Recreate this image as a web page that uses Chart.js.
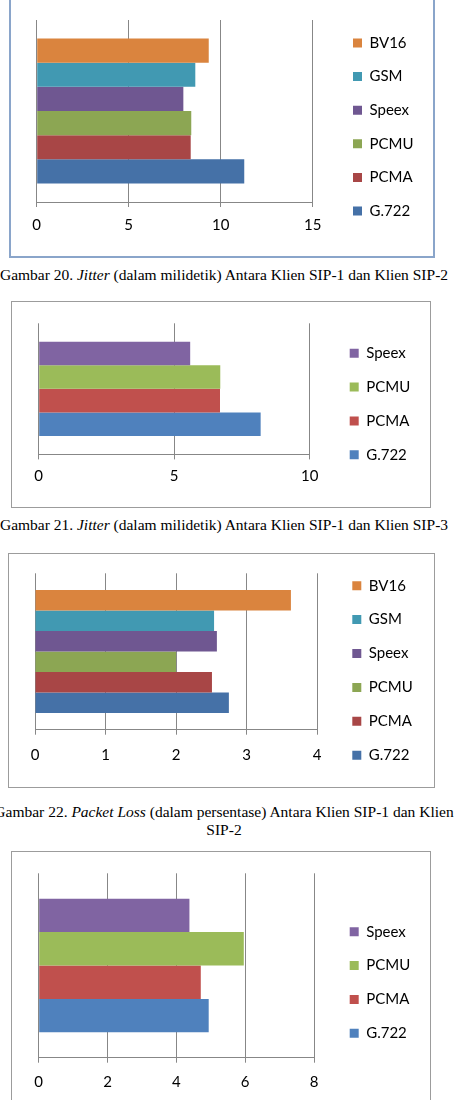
<!DOCTYPE html>
<html lang="id">
<head>
<meta charset="UTF-8">
<title>Jitter dan Packet Loss antar Klien SIP</title>
<script src="https://cdn.jsdelivr.net/npm/chart.js@4.4.0/dist/chart.umd.min.js"></script>
<style>
  html, body { margin: 0; padding: 0; background: #fff; }
  body { width: 456px; height: 1100px; position: relative; overflow: hidden; }
  .frame { position: absolute; box-sizing: border-box; border: 1px solid #9c9c9c; }
  .frame.blue { border: 2px solid #8aa5ca; }
  canvas { position: absolute; }
  .caption {
    position: absolute; left: -120px; width: 688px; text-align: center;
    font: 15.5px "Liberation Serif", "Times New Roman", serif; line-height: 18px;
    color: #000; white-space: nowrap;
  }
</style>
</head>
<body>
<div class="frame blue" style="left:9px; top:-10px; width:426px; height:268px"></div>
<canvas id="jitter2"></canvas>
<div class="caption" style="top:266px">Gambar 20. <i>Jitter</i> (dalam milidetik) Antara Klien SIP-1 dan Klien SIP-2</div>

<div class="frame" style="left:11px; top:301px; width:420px; height:207px"></div>
<canvas id="jitter3"></canvas>
<div class="caption" style="top:516px">Gambar 21. <i>Jitter</i> (dalam milidetik) Antara Klien SIP-1 dan Klien SIP-3</div>

<div class="frame" style="left:8px; top:553px; width:427px; height:235px"></div>
<canvas id="loss2"></canvas>
<div class="caption" style="top:803px">Gambar 22. <i>Packet Loss</i> (dalam persentase) Antara Klien SIP-1 dan Klien<br>SIP-2</div>

<div class="frame" style="left:11px; top:851px; width:420px; height:300px"></div>
<canvas id="loss3"></canvas>

<script>
// codecs, top bar first
const codecs6 = ['BV16', 'GSM', 'Speex', 'PCMU', 'PCMA', 'G.722'];
const codecs4 = ['Speex', 'PCMU', 'PCMA', 'G.722'];

// values
const jitterSip2 = [9.35, 8.62, 7.97, 8.40, 8.37, 11.28];
const jitterSip3 = [5.59, 6.70, 6.69, 8.19];
const lossSip2 = [3.63, 2.54, 2.58, 2.00, 2.51, 2.75];
const lossSip3 = [4.38, 5.96, 4.71, 4.94];

// x axis tick labels
const jitterSip2Ticks = [0, 5, 10, 15];
const jitterSip3Ticks = [0, 5, 10];
const lossSip2Ticks = [0, 1, 2, 3, 4];
const lossSip3Ticks = [0, 2, 4, 6, 8];

const darkColors = { 'BV16': '#da843e', 'GSM': '#4199b2', 'Speex': '#6f5791', 'PCMU': '#8ca653', 'PCMA': '#a84646', 'G.722': '#4571a7' };
const lightColors = { 'Speex': '#8064a2', 'PCMU': '#9bbb59', 'PCMA': '#c0504d', 'G.722': '#4f81bd' };

const FONT = { family: 'Lato, "Open Sans", sans-serif', size: 15 };
const GRID = '#878787';
const BOX = 9;

const measure = document.createElement('canvas').getContext('2d');

// box = page positions of each plot (px)
function makeChart(id, names, values, tickLabels, colors, box) {
  const fs = FONT.size, lh = fs * 1.2, tickLen = 5, n = names.length;
  const gap = box.legendStep - fs;
  // legend is centred on the full canvas height, solve for canvas top/bottom
  const k = 2 * box.legendY - fs - gap + n * box.legendStep;
  const m = (n - 1) * box.legendStep + fs + 2 * gap;
  const natural = box.labelY + lh / 2;
  const bottom = Math.max(natural, (k + m) / 2 + 1);
  const top = k - bottom;

  const canvas = document.getElementById(id);
  const cTop = Math.floor(top);
  const cH = Math.ceil(bottom) - cTop;
  canvas.width = box.canvasRight - box.canvasLeft;
  canvas.height = cH;
  canvas.style.left = box.canvasLeft + 'px';
  canvas.style.top = cTop + 'px';

  // same width the legend plugin will compute for itself
  measure.font = `normal ${fs}px ${FONT.family}`;
  const textW = Math.max(...names.map(t => measure.measureText(t).width));
  const legendW = gap + BOX + fs / 2 + textW + 10;
  const yW = box.legendX - box.areaRight - gap;

  return new Chart(canvas, {
    type: 'bar',
    data: {
      labels: [''],
      datasets: names.map((name, i) => ({
        label: name,
        data: [values[i]],
        backgroundColor: colors[name],
        borderWidth: 0,
        categoryPercentage: box.catPct,
        barPercentage: 1
      }))
    },
    options: {
      indexAxis: 'y',
      responsive: false,
      animation: false,
      layout: {
        padding: {
          left: box.areaLeft - box.canvasLeft,
          top: top - cTop,
          right: box.canvasRight - box.areaRight - yW - legendW,
          bottom: cTop + cH - bottom
        }
      },
      plugins: {
        title: {
          display: true, text: '', fullSize: false,
          font: { size: 1, lineHeight: 1 },
          padding: { top: box.areaTop - top - 1, bottom: 0 }
        },
        legend: {
          position: 'right',
          labels: { boxWidth: BOX, boxHeight: BOX, padding: gap, color: '#000', font: FONT }
        },
        tooltip: { enabled: false }
      },
      scales: {
        x: {
          min: tickLabels[0],
          max: tickLabels[tickLabels.length - 1],
          ticks: {
            stepSize: tickLabels[1] - tickLabels[0],
            color: '#000',
            font: FONT,
            padding: box.labelY - box.axisY - tickLen - lh / 2
          },
          grid: { color: GRID, tickLength: tickLen },
          border: { color: GRID },
          title: {
            display: bottom > natural + 1,
            text: '',
            font: { size: 1, lineHeight: 1 },
            padding: { top: Math.max(bottom - natural - 1, 0), bottom: 0 }
          }
        },
        y: {
          position: 'right',
          ticks: { display: false },
          grid: { display: false },
          border: { display: false },
          afterFit: s => { s.width = yW; }
        }
      }
    }
  });
}

makeChart('jitter2', codecs6, jitterSip2, jitterSip2Ticks, darkColors, {
  canvasLeft: 12, canvasRight: 452, areaLeft: 36.7, areaRight: 312.7, areaTop: 20, axisY: 211,
  labelY: 234, legendX: 353, legendY: 43, legendStep: 33.6, catPct: 0.796
});
makeChart('jitter3', codecs4, jitterSip3, jitterSip3Ticks, lightColors, {
  canvasLeft: 14, canvasRight: 452, areaLeft: 38.7, areaRight: 309.7, areaTop: 323.3, axisY: 461.7,
  labelY: 483, legendX: 349.7, legendY: 353.3, legendStep: 33.8, catPct: 0.72
});
makeChart('loss2', codecs6, lossSip2, lossSip2Ticks, darkColors, {
  canvasLeft: 10, canvasRight: 452, areaLeft: 35, areaRight: 317, areaTop: 573.3, axisY: 740.7,
  labelY: 765.7, legendX: 352.3, legendY: 585.7, legendStep: 33.9, catPct: 0.787
});
makeChart('loss3', codecs4, lossSip3, lossSip3Ticks, lightColors, {
  canvasLeft: 14, canvasRight: 452, areaLeft: 38.7, areaRight: 314, areaTop: 873.3, axisY: 1067.7,
  labelY: 1091.7, legendX: 349.7, legendY: 931.7, legendStep: 33.87, catPct: 0.724
});
</script>
</body>
</html>
